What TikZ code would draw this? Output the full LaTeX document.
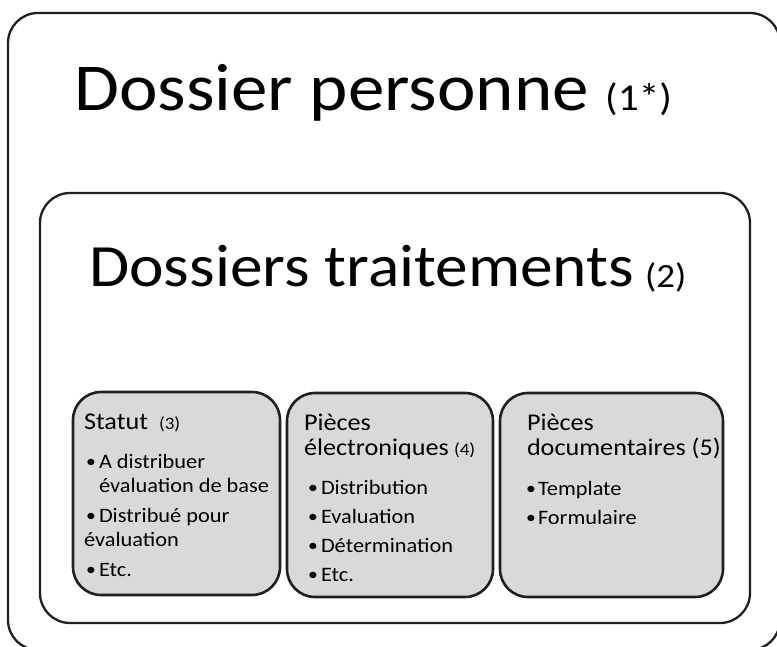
\documentclass[tikz,border=0pt]{standalone}
\usepackage{fontspec}
\setmainfont{Carlito}[FakeStretch=1.09]
\definecolor{boxfill}{RGB}{217,217,217}
\definecolor{edgec}{RGB}{35,31,32}
\begin{document}
\begin{tikzpicture}[x=1pt,y=-1pt,
  bigbox/.style={draw=edgec,line width=2.3pt,rounded corners=30pt},
  smallbox/.style={draw=edgec,fill=boxfill,line width=2.6pt,rounded corners=28pt},
  head/.style={anchor=base west,inner sep=0pt,outer sep=0pt,font=\fontsize{24}{25}\selectfont},
  txt/.style={anchor=base west,inner sep=0pt,outer sep=0pt,font=\fontsize{20.5}{25}\selectfont},
  lbl/.style={anchor=base west,inner sep=0pt,outer sep=0pt,font=\fontsize{17.5}{20}\selectfont},
  bul/.style={anchor=base west,inner sep=0pt,outer sep=0pt,font=\fontsize{18}{22}\selectfont}]
\useasboundingbox (0,0) rectangle (777,647);
\clip (0,0) rectangle (777,647);
\fill[white] (0,0) rectangle (777,647);
% boxes
\draw[bigbox] (8,13) rectangle (780,650);
\draw[bigbox] (40,193) rectangle (750,623);
\draw[smallbox] (73,392) rectangle (280,595);
\draw[smallbox] (287,393) rectangle (493,597);
\draw[smallbox] (500,393) rectangle (723,597);
% titles
\node[anchor=base west,inner sep=0pt,font=\fontsize{67}{80}\selectfont] (t1) at (74,111) {Dossier personne};
\node[anchor=base west,inner sep=0pt,font=\fontsize{38}{45}\selectfont] (t1n) at (605,111) {(1*)};
\node[anchor=base west,inner sep=0pt,font=\fontsize{60}{72}\selectfont] (t2) at (89,287) {Dossiers traitements};
\node[anchor=base west,inner sep=0pt,font=\fontsize{34}{40}\selectfont] (t2n) at (645,288) {(2)};
% box 1
\node[head] (a0) at (84,429) {Statut};
\node[lbl] (a0n) at (159,429) {(3)};
\node[bul] (ab1) at (86,467) {•};
\node[txt] (a1) at (99,468) {A distribuer};
\node[txt] (a1b) at (99,492) {évaluation de base};
\node[bul] (ab2) at (86,521) {•};
\node[txt] (a2) at (99,522) {Distribué pour};
\node[txt] (a2b) at (84,546) {évaluation};
\node[bul] (ab3) at (86,575) {•};
\node[txt] (a3) at (99,576) {Etc.};
% box 2
\node[head] (b0) at (304,430) {Pièces};
\node[head] (b0b) at (304,455) {électroniques};
\node[lbl] (b0n) at (454,455) {(4)};
\node[bul] (bb1) at (308,493) {•};
\node[txt] (b1) at (321,494) {Distribution};
\node[bul] (bb2) at (308,522) {•};
\node[txt] (b2) at (321,523) {Evaluation};
\node[bul] (bb3) at (308,551) {•};
\node[txt] (b3) at (321,552) {Détermination};
\node[bul] (bb4) at (308,580) {•};
\node[txt] (b4) at (321,581) {Etc.};
% box 3
\node[head] (c0) at (527,430) {Pièces};
\node[head] (c0b) at (527,455) {documentaires (5)};
\node[bul] (cb1) at (526,494) {•};
\node[txt] (c1) at (538,495) {Template};
\node[bul] (cb2) at (526,523) {•};
\node[txt] (c2) at (538,524) {Formulaire};
\end{tikzpicture}
\end{document}
